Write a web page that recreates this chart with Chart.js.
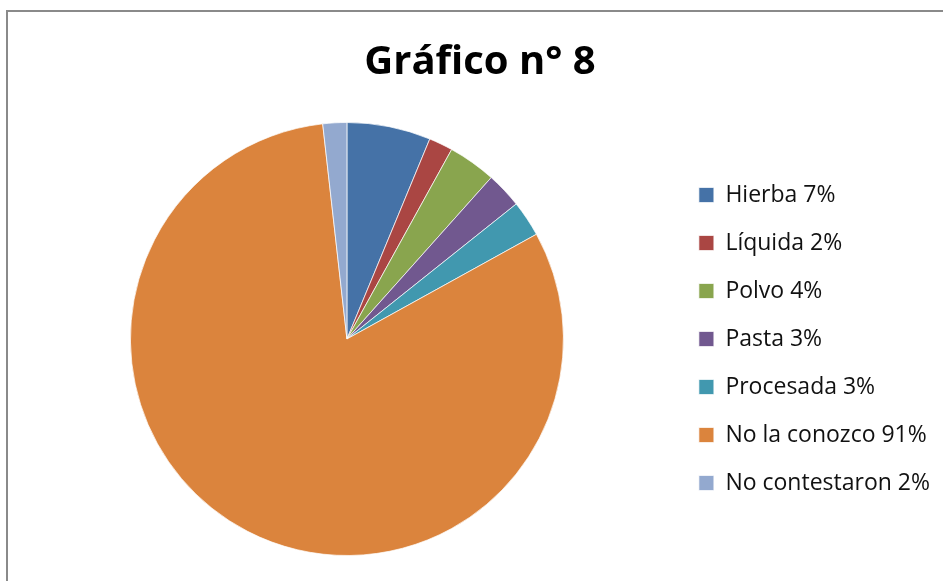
<!DOCTYPE html>
<html>
<head>
<meta charset="utf-8">
<script src="https://cdn.jsdelivr.net/npm/chart.js@4/dist/chart.umd.min.js"></script>
<style>
html,body{margin:0;padding:0;background:#fff;}
#wrap{width:943px;height:581px;position:relative;}
</style>
</head>
<body>
<div id="wrap"><canvas id="c" width="943" height="581"></canvas></div>
<script>
const categories = ["Hierba 7%", "Líquida 2%", "Polvo 4%", "Pasta 3%", "Procesada 3%", "No la conozco 91%", "No contestaron 2%"];
const values = [7, 2, 4, 3, 3, 91, 2];
const colors = ["#4572A7", "#AA4643", "#89A54E", "#71588F", "#4198AF", "#DB843D", "#93A9CF"];
const titleText = "Gráfico n° 8";

const framePlugin = {
  id: 'frame',
  beforeDraw(chart) {
    const ctx = chart.ctx;
    ctx.save();
    ctx.fillStyle = '#fff';
    ctx.fillRect(0, 0, chart.width, chart.height);
    ctx.strokeStyle = '#8a8a8a';
    ctx.lineWidth = 2;
    ctx.beginPath();
    ctx.moveTo(7, chart.height + 5);
    ctx.lineTo(7, 11);
    ctx.lineTo(chart.width + 5, 11);
    ctx.stroke();
    ctx.restore();
  }
};

new Chart(document.getElementById('c'), {
  type: 'pie',
  data: {
    labels: categories,
    datasets: [{
      data: values,
      backgroundColor: colors,
      borderColor: 'rgba(255,255,255,0.7)',
      borderWidth: 1
    }]
  },
  options: {
    responsive: false,
    animation: false,
    layout: { padding: { top: 10, left: 20, right: 3, bottom: 25 } },
    plugins: {
      title: {
        display: true,
        text: titleText,
        color: '#000',
        font: { family: 'Open Sans', size: 40, weight: 'bold' },
        padding: { top: 29, bottom: 35 }
      },
      legend: {
        position: 'right',
        fullSize: false,
        labels: {
          color: '#111',
          font: { family: 'Open Sans', size: 23 },
          boxWidth: 15,
          boxHeight: 15,
          padding: 25
        }
      },
      tooltip: { enabled: false }
    }
  },
  plugins: [framePlugin]
});
</script>
</body>
</html>
